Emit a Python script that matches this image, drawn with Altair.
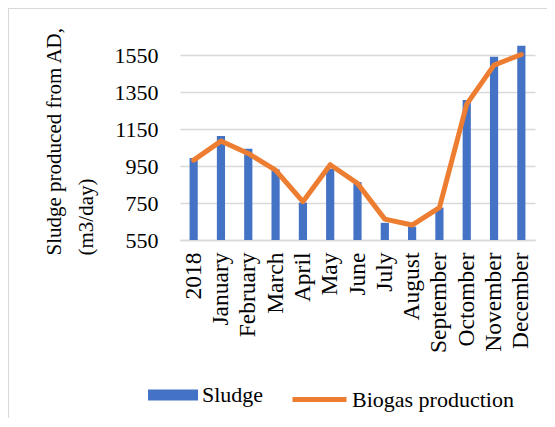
import altair as alt
import pandas as pd

months = ["2018", "January", "February", "March", "April", "May", "June",
          "July", "August", "September", "Octomber", "November", "December"]
sludge = [993, 1112, 1043, 932, 752, 935, 863, 643, 622, 725, 1307, 1541, 1600]
biogas = [982, 1085, 1018, 928, 757, 957, 856, 663, 631, 725, 1285, 1496, 1553]
y_ticks = [550, 750, 950, 1150, 1350, 1550]

df = pd.DataFrame({"month": months, "sludge": sludge, "biogas": biogas,
                   "s1": "Sludge", "s2": "Biogas production"})

FONT = "Liberation Serif"
yscale = alt.Scale(domain=[550, 1610], nice=False, zero=False)
yaxis = alt.Axis(values=y_ticks, format="d", title=["Sludge produced from AD,", "(m3/day)"],
                 titleAngle=270, titleAlign="left", titleBaseline="top",
                 titleX=-137, titleY=211, titleLineHeight=32, titleFontSize=21,
                 labelPadding=22, labelFontSize=22, domain=False, ticks=False,
                 gridColor="#d9d9d9", gridWidth=1.3)
x = alt.X("month:N", sort=months, title=None,
          scale=alt.Scale(paddingInner=0.7, paddingOuter=0.35),
          axis=alt.Axis(labelAngle=270, labelPadding=12, labelFontSize=23.5,
                        ticks=False, grid=False,
                        domainColor="#d9d9d9", domainWidth=1.5))

base = alt.Chart(df)
bar = base.mark_bar().encode(
    x=x,
    y=alt.Y("sludge:Q", scale=yscale, axis=yaxis),
    y2=alt.datum(550),
    fill=alt.Fill("s1:N", scale=alt.Scale(domain=["Sludge"], range=["#4472C4"]),
                  legend=alt.Legend(title=None, orient="none", legendX=-32, legendY=326,
                                    symbolType="M-1,-0.22H1V0.22H-1Z", symbolSize=2500,
                                    symbolStrokeWidth=0, padding=0, labelOffset=4,
                                    labelLimit=300)),
)
line = base.mark_line(strokeWidth=5, strokeCap="round", strokeJoin="round").encode(
    x=x,
    y=alt.Y("biogas:Q", scale=yscale, axis=yaxis),
    stroke=alt.Stroke("s2:N", scale=alt.Scale(domain=["Biogas production"], range=["#ED7D31"]),
                      legend=alt.Legend(title=None, orient="none", legendX=110, legendY=326,
                                        symbolType="stroke", symbolSize=2916,
                                        symbolStrokeWidth=5, padding=0, labelOffset=3,
                                        labelLimit=300)),
)
border = alt.Chart(pd.DataFrame({"a": [0]})).mark_rect(
    filled=False, stroke="#d9d9d9", strokeWidth=1.2
).encode(x=alt.value(-171.5), x2=alt.value(600), y=alt.value(-35.5), y2=alt.value(600))

chart = alt.layer(border, bar, line).properties(
    width=355, height=196, autosize="none",
    padding={"left": 172, "top": 36, "right": 12, "bottom": 178},
).configure_view(stroke=None).configure_axis(
    labelFont=FONT, labelColor="#000000",
    titleFont=FONT, titleFontWeight="normal", titleColor="#000000",
).configure_legend(labelFont=FONT, labelFontSize=22, labelColor="#000000")

chart.save("out.html", embed_options={"renderer": "svg", "actions": False})
